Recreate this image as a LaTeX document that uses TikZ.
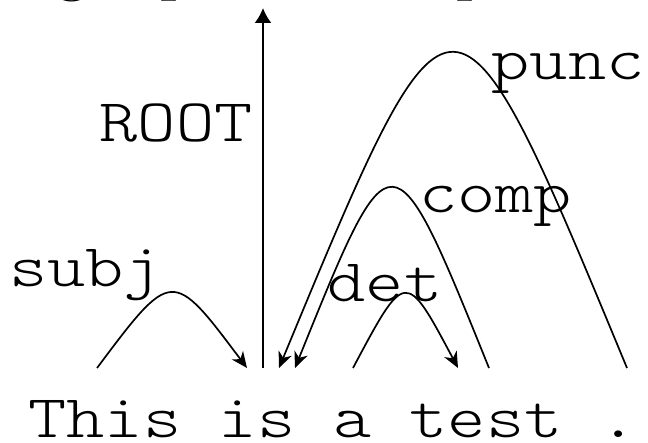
\documentclass[tikz,border=0pt]{standalone}
\usepackage{fontspec}
\newfontfamily\depmono[FakeStretch=1.2]{lmmonolt10-regular.otf}
\usetikzlibrary{arrows.meta}
\begin{document}
\begin{tikzpicture}[x=1pt,y=-1pt,
  word/.style={inner sep=0pt, anchor=base, font=\depmono\fontsize{60.6}{66}\selectfont},
  rel/.style={word},
  titlefrag/.style={inner sep=0pt, anchor=base, font=\fontsize{76}{80}\selectfont},
  deparc/.style={line width=1.7pt, -{Stealth[length=16pt,width=14pt,inset=5pt]}},
  rootarrow/.style={line width=1.9pt, -{Latex[length=15pt,width=17pt]}}]
\useasboundingbox (0,0) rectangle (648,443);
\clip (0,0) rectangle (648,443);
% cut-off title descenders at the top edge
\node[titlefrag] (g1) at (72,-13) {g};
\node[titlefrag] (p1) at (179,-13) {p};
\node[titlefrag] (p2) at (475,-13) {p};
% words
\node[word] (w1) at (105,437) {This};
\node[word] (w2) at (257,437) {is};
\node[word] (w3) at (352.5,437) {a};
\node[word] (w4) at (486,437) {test};
\node[word] (w5) at (619,437) {.};
% arc end points
\coordinate (subjA) at (97,368);
\coordinate (subjB) at (247,368);
\coordinate (rootA) at (263,368);
\coordinate (rootB) at (263,8);
\coordinate (detA) at (353,368);
\coordinate (detB) at (458,368);
\coordinate (compA) at (489,368);
\coordinate (compB) at (295,368);
\coordinate (puncA) at (627,368);
\coordinate (puncB) at (279,368);
% arcs
\draw[deparc] (subjA) .. controls (172,268) .. (subjB);
\draw[rootarrow] (rootA) -- (rootB);
\draw[deparc] (detA) .. controls (405.5,269.3) .. (detB);
\draw[deparc] (compA) .. controls (392,128) .. (compB);
\draw[deparc] (puncA) .. controls (453,-52) .. (puncB);
% labels
\node[rel] (lsubj) at (85.5,287) {subj};
\node[rel] (lroot) at (176,142) {ROOT};
\node[rel] (lcomp) at (495.5,213) {comp};
\node[rel] (ldet) at (385,302) {det};
\node[rel] (lpunc) at (568,80) {punc};
\end{tikzpicture}
\end{document}
